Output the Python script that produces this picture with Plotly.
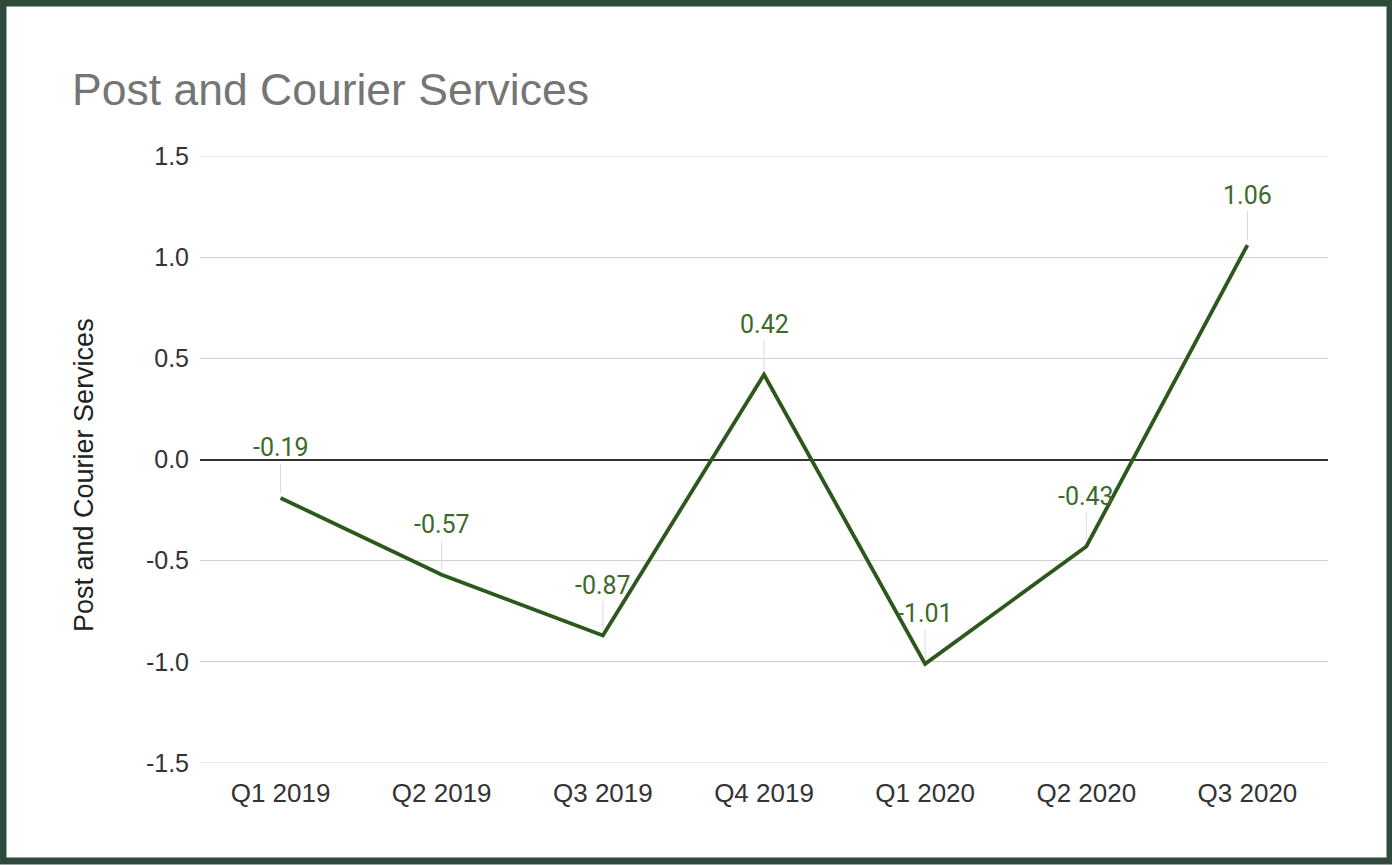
import plotly.graph_objects as go

# Quarterly index values for post and courier services
quarters = ["Q1 2019", "Q2 2019", "Q3 2019", "Q4 2019", "Q1 2020", "Q2 2020", "Q3 2020"]
values = [-0.19, -0.57, -0.87, 0.42, -1.01, -0.43, 1.06]
y_ticks = [1.5, 1.0, 0.5, 0.0, -0.5, -1.0, -1.5]
y_tick_text = ["1.5", "1.0", "0.5", "0.0", "-0.5", "-1.0", "-1.5"]

W, H = 1392, 865
M_L, M_R, M_T, M_B = 200, 64, 156, 102
PW, PH = W - M_L - M_R, H - M_T - M_B

LINE_COLOR = "#2d581d"
LABEL_COLOR = "#3b6a2a"
BORDER_COLOR = "#2d4a3b"
GRID_COLOR = "#d0d0d0"


def px_x(x):
    """Convert a page x pixel to paper coordinates."""
    return (x - M_L) / PW


def px_y(y):
    """Convert a page y pixel (from top) to paper coordinates."""
    return (H - M_B - y) / PH


fig = go.Figure()

# Gridlines at the two ends of the value range (Plotly skips edge gridlines)
for yv in (max(y_ticks), min(y_ticks)):
    fig.add_shape(
        type="line", xref="paper", yref="y",
        x0=0, x1=1, y0=yv, y1=yv,
        line=dict(color=GRID_COLOR, width=1), layer="below",
    )

fig.add_trace(go.Scatter(
    x=quarters,
    y=values,
    mode="lines",
    line=dict(color=LINE_COLOR, width=3.8),
    hoverinfo="x+y",
    showlegend=False,
))

# Value labels with thin leader lines toward each point
for q, v in zip(quarters, values):
    fig.add_annotation(
        x=q, y=v, xref="x", yref="y",
        text=f"{v:.2f}",
        showarrow=True, arrowhead=0, arrowwidth=1, arrowcolor="#d9d9d9",
        ax=0, ay=-50, standoff=5,
        font=dict(family="Roboto", size=25, color=LABEL_COLOR),
    )

# Vertical axis title
fig.add_annotation(
    x=px_x(84), y=px_y(475), xref="paper", yref="paper",
    text="Post and Courier Services", textangle=-90, showarrow=False,
    xanchor="center", yanchor="middle",
    font=dict(family="Liberation Sans", size=27, color="#222222"),
)

# Frame around the whole chart
bw = 6
fig.add_shape(
    type="rect", xref="paper", yref="paper",
    x0=px_x(bw / 2), x1=px_x(W - bw / 2 + 1),
    y0=px_y(H - bw / 2 - 1), y1=px_y(bw / 2),
    line=dict(color=BORDER_COLOR, width=bw + 1),
    fillcolor="rgba(0,0,0,0)", layer="above",
)

fig.update_layout(
    width=W, height=H,
    margin=dict(l=M_L, r=M_R, t=M_T, b=M_B),
    paper_bgcolor="white", plot_bgcolor="white",
    title=dict(
        text="Post and Courier Services",
        x=72 / W, xanchor="left", xref="container",
        y=1 - 89 / H, yanchor="middle", yref="container",
        font=dict(family="Liberation Sans", size=44.5, color="#757575"),
    ),
    xaxis=dict(
        range=[-0.5, len(quarters) - 0.5],
        showgrid=False, zeroline=False, showline=False,
        ticks="", ticklabelstandoff=12,
        tickfont=dict(family="Liberation Sans", size=26, color="#333333"),
    ),
    yaxis=dict(
        range=[-1.5, 1.5],
        tickvals=y_ticks, ticktext=y_tick_text,
        showgrid=True, gridcolor=GRID_COLOR, gridwidth=1,
        zeroline=True, zerolinecolor="#333333", zerolinewidth=2,
        showline=False, ticks="", ticklabelstandoff=10,
        tickfont=dict(family="Liberation Sans", size=25, color="#333333"),
    ),
)

fig.write_html("out.html")
